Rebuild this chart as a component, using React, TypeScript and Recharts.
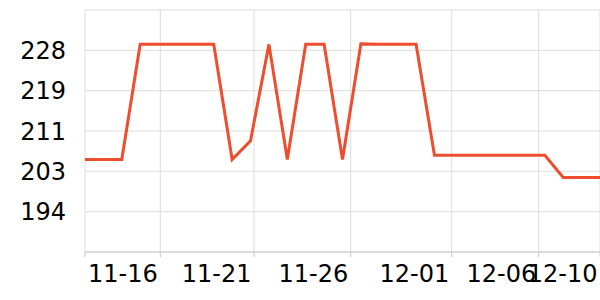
import React from 'react';
import { LineChart, Line, XAxis, YAxis, CartesianGrid } from 'recharts';

const dates = [
  '11-12', '11-13', '11-14', '11-15', '11-16', '11-17', '11-18', '11-19', '11-20', '11-21',
  '11-22', '11-23', '11-24', '11-25', '11-26', '11-27', '11-28', '11-29', '11-30', '12-01',
  '12-02', '12-03', '12-04', '12-05', '12-06', '12-07', '12-08', '12-09', '12-10',
];
const values = [
  205.1, 205.1, 205.1, 228.9, 228.9, 228.9, 228.9, 228.9, 205.1, 209.0,
  228.9, 205.1, 228.9, 228.9, 205.1, 229.0, 228.9, 228.9, 228.9, 206.0,
  206.0, 206.0, 206.0, 206.0, 206.0, 206.0, 201.4, 201.4, 201.4,
];
const xTickPositions = [0, 4.094, 9.188, 14.446, 19.937, 24.667, 28];
const xTickLabels = ['', '11-16', '11-21', '11-26', '12-01', '12-06', '12-10'];
const yTicks = [194.333, 202.667, 211, 219.333, 227.667];
const yDomain: [number, number] = [186, 236];

const data = dates.map((d, i) => ({ idx: i, date: d, value: values[i] }));

const FONT = 'DejaVu Sans';

const XTick = (props: any) => {
  const { x, y, payload } = props;
  const i = xTickPositions.indexOf(payload.value);
  const label = i >= 0 ? xTickLabels[i] : '';
  return (
    <text x={x - 2.5} y={y} dy="0.71em" textAnchor="end" fontFamily={FONT} fontSize={24} fill="#000">
      {label}
    </text>
  );
};

export default function App() {
  return (
    <div style={{ position: 'absolute', left: 0, top: 0, width: 600, height: 300, overflow: 'hidden' }}>
      <LineChart width={600} height={300} data={data} margin={{ top: 10, right: 0, bottom: 0, left: 0 }}>
        <CartesianGrid stroke="#dddddd" strokeWidth={1} />
        <XAxis
          dataKey="idx"
          type="number"
          domain={[0, 28]}
          ticks={xTickPositions}
          interval={0}
          height={48}
          axisLine={{ stroke: '#c8c8c8' }}
          tickLine={{ stroke: '#c8c8c8' }}
          tickSize={5}
          tickMargin={8}
          tick={<XTick />}
        />
        <YAxis
          type="number"
          domain={yDomain}
          ticks={yTicks}
          interval={0}
          width={85}
          axisLine={false}
          tickLine={false}
          tickSize={0}
          tickMargin={19}
          tickFormatter={(v: number) => String(Math.round(v))}
          tick={{ fontFamily: FONT, fontSize: 24, fill: '#000' }}
        />
        <Line
          type="linear"
          dataKey="value"
          stroke="#f04c2e"
          strokeWidth={3}
          dot={false}
          activeDot={false}
          isAnimationActive={false}
        />
      </LineChart>
    </div>
  );
}
